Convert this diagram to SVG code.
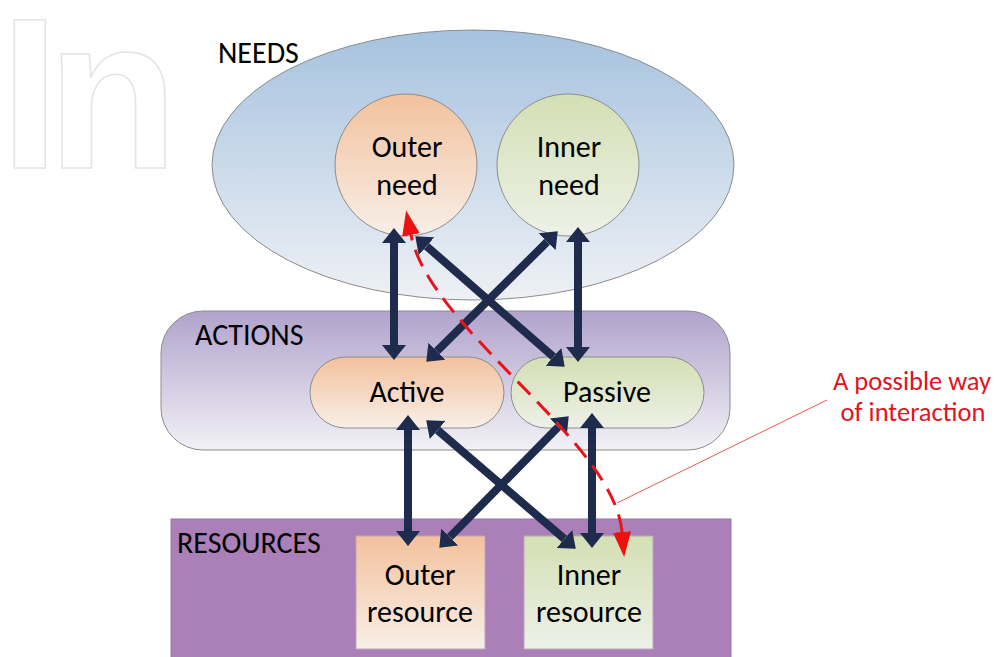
<svg xmlns="http://www.w3.org/2000/svg" width="997" height="657" viewBox="0 0 997 657">
<style>
.lbl{font-family:Carlito,Lato,"Liberation Sans",sans-serif;font-size:30px;fill:#000}
.ctr{text-anchor:middle}
.red{font-family:Carlito,Lato,"Liberation Sans",sans-serif;font-size:26.5px;fill:#e0141e;text-anchor:middle}
.wm{font-family:"Liberation Sans",sans-serif;font-weight:bold;font-size:215px;fill:#fff;stroke:#e4e4e4;stroke-width:1.5}
.frame{stroke:#8c8c8c;stroke-width:1}
.nav{fill:none;stroke:#1f2b4d;stroke-width:8;marker-start:url(#ah);marker-end:url(#ah)}
.rd{fill:none;stroke:#e8141c;stroke-width:3;stroke-dasharray:18 10;marker-start:url(#rh);marker-end:url(#rh)}
</style>
<defs>
<linearGradient id="gNeeds" x1="0" y1="0" x2="0" y2="1"><stop offset="0" stop-color="#a6c2df"/><stop offset="1" stop-color="#eef1f5"/></linearGradient>
<linearGradient id="gAct" x1="0" y1="0" x2="0" y2="1"><stop offset="0" stop-color="#b0a3cc"/><stop offset="1" stop-color="#f2f1f6"/></linearGradient>
<linearGradient id="gOr" x1="0" y1="0" x2="0" y2="1"><stop offset="0" stop-color="#f3c19c"/><stop offset="1" stop-color="#f8efe8"/></linearGradient>
<linearGradient id="gGr" x1="0" y1="0" x2="0" y2="1"><stop offset="0" stop-color="#d3dfb3"/><stop offset="1" stop-color="#eef1e8"/></linearGradient>
<marker id="ah" markerUnits="userSpaceOnUse" markerWidth="16" markerHeight="24" viewBox="0 0 16 24" refX="0" refY="12" orient="auto-start-reverse"><path d="M0,0 L15,12 L0,24 z" fill="#1f2b4d"/></marker>
<marker id="rh" markerUnits="userSpaceOnUse" markerWidth="26" markerHeight="20" viewBox="0 0 26 20" refX="0" refY="10" orient="auto-start-reverse"><path d="M0,1 L25,10 L0,19 z" fill="#ee1111"/></marker>
</defs>
<rect width="997" height="657" fill="#fff"/>
<g id="watermark">
<text class="wm" x="0 47" y="168">In</text>
</g>
<rect x="170" y="30" width="827" height="627" fill="#fff"/>

<g id="needs">
<ellipse cx="473" cy="165" rx="261" ry="135" fill="url(#gNeeds)" class="frame"/>
<text class="lbl" x="218" y="63">NEEDS</text>
</g>
<g id="outer-need">
<ellipse cx="406" cy="165" rx="71" ry="71" fill="url(#gOr)" class="frame"/>
<text class="lbl ctr" x="407" y="157">Outer</text>
<text class="lbl ctr" x="407" y="195">need</text>
</g>
<g id="inner-need">
<ellipse cx="568" cy="165" rx="71" ry="71" fill="url(#gGr)" class="frame"/>
<text class="lbl ctr" x="569" y="157">Inner</text>
<text class="lbl ctr" x="569" y="195">need</text>
</g>

<g id="actions">
<rect x="161" y="311" width="569" height="139" rx="42" ry="42" fill="url(#gAct)" class="frame"/>
<text class="lbl" x="195" y="345">ACTIONS</text>
</g>
<g id="active">
<rect x="310" y="357" width="194" height="71" rx="35.5" ry="35.5" fill="url(#gOr)" class="frame"/>
<text class="lbl ctr" x="407" y="402">Active</text>
</g>
<g id="passive">
<rect x="511" y="357" width="193" height="71" rx="35.5" ry="35.5" fill="url(#gGr)" class="frame"/>
<text class="lbl ctr" x="607" y="402">Passive</text>
</g>

<g id="resources">
<rect x="171" y="519" width="560" height="140" fill="#ab80b9" stroke="#9a72a8" stroke-width="1"/>
<text class="lbl" x="177" y="553">RESOURCES</text>
</g>
<g id="outer-resource">
<rect x="356" y="536" width="129" height="113" fill="url(#gOr)" stroke="#b7a7b8" stroke-width="1"/>
<text class="lbl ctr" x="420" y="585">Outer</text>
<text class="lbl ctr" x="420" y="622">resource</text>
</g>
<g id="inner-resource">
<rect x="524" y="536" width="129" height="113" fill="url(#gGr)" stroke="#b7a7b8" stroke-width="1"/>
<text class="lbl ctr" x="589" y="585">Inner</text>
<text class="lbl ctr" x="589" y="622">resource</text>
</g>

<g id="annotation">
<text class="red" x="912" y="390">A possible way</text>
<text class="red" x="913" y="421">of interaction</text>
</g>

<g id="connectors">
<path class="nav" d="M394,243 L394,345"/>
<path class="nav" d="M578,242 L578,347"/>
<path class="nav" d="M426.6,246.2 L553.4,356.8"/>
<path class="nav" d="M547.1,241.9 L436.9,351.1"/>
<path class="nav" d="M408,430 L408,531"/>
<path class="nav" d="M592,428 L592,533"/>
<path class="nav" d="M437.6,430.1 L564.4,538.9"/>
<path class="nav" d="M558.2,427 L449.8,537"/>
<path class="rd" d="M622,532 C614,440 430,330 411,235"/>
<path d="M827,400 L617,503" fill="none" stroke="#e35a5a" stroke-width="1"/>
</g>
</svg>
